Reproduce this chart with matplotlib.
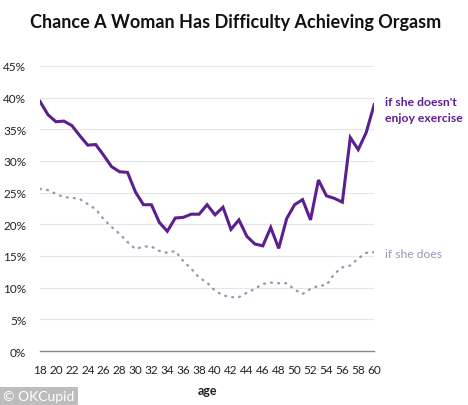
import matplotlib
matplotlib.use("Agg")
import matplotlib.pyplot as plt

ages = list(range(18, 61))
no_exercise = [39.4, 37.3, 36.2, 36.3, 35.6, 34.0, 32.5, 32.6, 30.9, 29.1,
               28.3, 28.2, 25.1, 23.1, 23.1, 20.3, 18.9, 21.0, 21.1, 21.6,
               21.6, 23.1, 21.5, 22.7, 19.2, 20.7, 18.1, 16.9, 16.6, 19.5,
               16.2, 20.9, 23.1, 23.9, 20.7, 27.0, 24.5, 24.1, 23.5, 33.7,
               31.8, 34.5, 38.9]
exercise = [25.6, 25.4, 24.8, 24.3, 24.2, 24.0, 23.2, 22.4, 20.8, 19.6,
            18.5, 17.2, 16.1, 16.5, 16.5, 15.8, 15.5, 15.8, 14.2, 13.0,
            11.6, 10.8, 9.5, 8.8, 8.5, 8.5, 9.2, 9.8, 10.6, 10.8,
            10.7, 10.7, 9.7, 9.0, 9.8, 10.3, 10.4, 12.2, 13.2, 13.5,
            14.6, 15.5, 15.6]
xticks = list(range(18, 61, 2))
yticks = [0, 5, 10, 15, 20, 25, 30, 35, 40, 45]

purple = "#5B1F8E"
lilac = "#A093B4"

plt.rcParams['font.family'] = ['Lato', 'DejaVu Sans']

fig = plt.figure(figsize=(4.68, 4.06), dpi=100)
ax = fig.add_axes([0.0855, 0.133, 0.714, 0.702])

ax.plot(ages, no_exercise, color=purple, lw=2.2, solid_joinstyle='miter', zorder=3)
ax.plot(ages, exercise, color=lilac, lw=1.7, linestyle=(0, (0.4, 2.6)),
        dash_capstyle='round', zorder=3)

ax.set_xlim(18, 60)
ax.set_ylim(0, 45)
ax.set_xticks(xticks)
ax.set_xticklabels([str(t) for t in xticks])
ax.set_yticks(yticks)
ax.set_yticklabels([f"{t}%" for t in yticks])
ax.tick_params(axis='both', length=0, labelsize=8.5, colors='#222222')
ax.tick_params(axis='x', pad=9)
ax.tick_params(axis='y', pad=10)
ax.grid(axis='y', color='#E6E6E6', lw=0.8)
ax.set_axisbelow(True)
for s in ['top', 'right', 'left']:
    ax.spines[s].set_visible(False)
ax.spines['bottom'].set_color('#888888')
ax.spines['bottom'].set_linewidth(1.0)
ax.set_xlabel('age', fontsize=9, fontweight='bold', color='#222222', labelpad=7)

fig.text(0.503, 0.945, 'Chance A Woman Has Difficulty Achieving Orgasm',
         ha='center', va='center', fontsize=13, fontweight='bold', color='#111111')

fig.text(385/468, 1 - 103/406, "if she doesn't", ha='left', va='center',
         fontsize=8.7, fontweight='bold', color=purple)
fig.text(385/468, 1 - 118/406, "enjoy exercise", ha='left', va='center',
         fontsize=8.7, fontweight='bold', color=purple)
fig.text(385/468, 1 - 254/406, "if she does", ha='left', va='center',
         fontsize=8.7, color=lilac)

fig.text(0.006, 0.022, "© OKCupid", ha='left', va='center', fontsize=10,
         color='white',
         bbox=dict(boxstyle='square,pad=0.25', fc='#BDBDBD', ec='none'))

fig.savefig('out.png', dpi=100)
